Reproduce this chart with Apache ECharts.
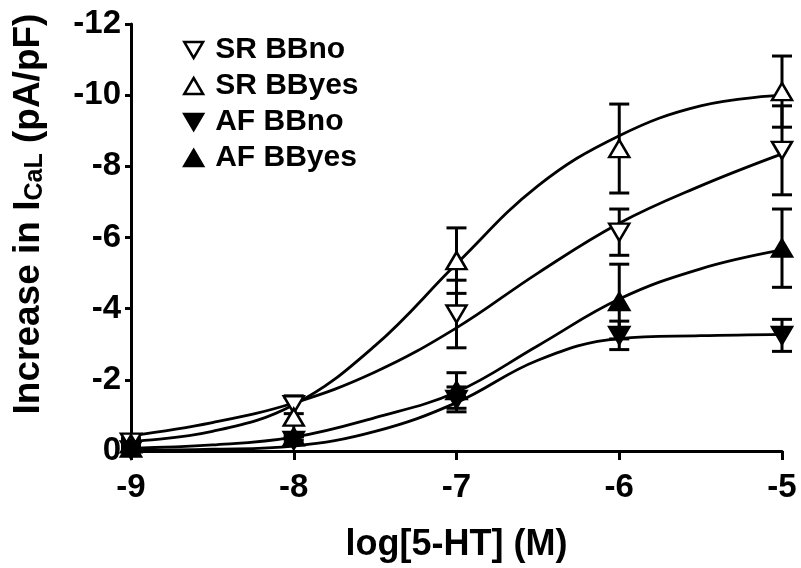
<!DOCTYPE html>
<html>
<head>
<meta charset="utf-8">
<script src="https://cdn.jsdelivr.net/npm/echarts@6/dist/echarts.min.js"></script>
<style>
  html, body { margin: 0; padding: 0; background: #fff; }
  #chart { width: 801px; height: 568px; }
</style>
</head>
<body>
<div id="chart"></div>
<script>
// concentrations (log M) where the points were measured
var doseX = [-9, -8, -7, -6, -5];
var curveX = [-9, -8.5, -8, -7.5, -7, -6.5, -6, -5.5, -5];
var xTicks = [-9, -8, -7, -6, -5];
var yTicks = [0, -2, -4, -6, -8, -10, -12];

// means and SEM
var srNoMean = [-0.25, -1.3, -3.85, -6.15, -8.45];
var srNoSem = [0.1, 0.25, 0.95, 0.65, 1.25];
var srYesMean = [-0.2, -0.95, -5.35, -8.5, -10.1];
var srYesSem = [0.1, 0.55, 0.92, 1.25, 1.0];
var afNoMean = [-0.03, -0.3, -1.45, -3.25, -3.25];
var afNoSem = [0.05, 0.1, 0.35, 0.4, 0.45];
var afYesMean = [-0.08, -0.4, -1.7, -4.2, -5.7];
var afYesSem = [0.05, 0.1, 0.5, 1.05, 1.1];

// fitted curves
var srNoFit = [-0.43, -0.8, -1.35, -2.22, -3.46, -5.0, -6.4, -7.45, -8.35];
var srYesFit = [-0.27, -0.55, -1.3, -2.96, -5.26, -7.45, -8.86, -9.7, -10.0];
var afNoFit = [-0.02, -0.05, -0.14, -0.55, -1.36, -2.55, -3.16, -3.24, -3.28];
var afYesFit = [-0.08, -0.17, -0.39, -0.94, -1.66, -2.96, -4.27, -5.12, -5.65];

var FONT = '"Liberation Sans", Arial, sans-serif';
var UP = 'path://M10,0 L20,17 L0,17 Z';
var DOWN = 'path://M0,0 L20,0 L10,17 Z';

var groups = [
  { name: 'SR BBno', mean: srNoMean, sem: srNoSem, fit: srNoFit, icon: DOWN, fill: '#fff' },
  { name: 'SR BByes', mean: srYesMean, sem: srYesSem, fit: srYesFit, icon: UP, fill: '#fff' },
  { name: 'AF BBno', mean: afNoMean, sem: afNoSem, fit: afNoFit, icon: DOWN, fill: '#000' },
  { name: 'AF BByes', mean: afYesMean, sem: afYesSem, fit: afYesFit, icon: UP, fill: '#000' }
];

function zip(xs, ys) {
  return xs.map(function (x, i) { return [x, ys[i]]; });
}

function errorBar(params, api) {
  var x = api.value(0);
  var a = api.coord([x, api.value(1)]);
  var b = api.coord([x, api.value(2)]);
  var w = 10;
  var st = { stroke: '#000', lineWidth: 3 };
  return {
    type: 'group',
    children: [
      { type: 'line', shape: { x1: a[0], y1: a[1], x2: b[0], y2: b[1] }, style: st },
      { type: 'line', shape: { x1: a[0] - w, y1: a[1], x2: a[0] + w, y2: a[1] }, style: st },
      { type: 'line', shape: { x1: b[0] - w, y1: b[1], x2: b[0] + w, y2: b[1] }, style: st }
    ]
  };
}

var series = [];
groups.forEach(function (g) {
  series.push({
    name: g.name + ' fit',
    type: 'line',
    data: zip(curveX, g.fit),
    smooth: 0.4,
    showSymbol: false,
    lineStyle: { color: '#000', width: 2.8 },
    silent: true,
    z: 2
  });
});
groups.forEach(function (g) {
  series.push({
    name: g.name + ' err',
    type: 'custom',
    renderItem: errorBar,
    encode: { x: 0, y: [1, 2] },
    data: doseX.map(function (x, i) {
      return [x, g.mean[i] - g.sem[i], g.mean[i] + g.sem[i]];
    }),
    z: 3
  });
});
groups.forEach(function (g) {
  series.push({
    name: g.name,
    type: 'scatter',
    data: zip(doseX, g.mean),
    symbol: g.icon,
    symbolSize: [20, 17],
    itemStyle: { color: g.fill, borderColor: '#000', borderWidth: 2.5, opacity: 1 },
    z: 4
  });
});

var chart = echarts.init(document.getElementById('chart'));
chart.setOption({
  backgroundColor: '#fff',
  animation: false,
  grid: { left: 131, right: 19, top: 24, bottom: 111 },
  legend: {
    orient: 'vertical',
    left: 178,
    top: 30,
    itemWidth: 19,
    itemHeight: 16,
    itemGap: 6,
    selectedMode: false,
    textStyle: { fontFamily: FONT, fontWeight: 'bold', fontSize: 30, color: '#000', padding: [0, 0, 0, 7] },
    data: groups.map(function (g) {
      return {
        name: g.name,
        icon: g.icon,
        itemStyle: { color: g.fill, borderColor: '#000', borderWidth: 2.5 }
      };
    })
  },
  xAxis: {
    type: 'value',
    min: xTicks[0],
    max: xTicks[xTicks.length - 1],
    interval: 1,
    name: 'log[5-HT] (M)',
    nameLocation: 'middle',
    nameGap: 76,
    nameTextStyle: { fontFamily: FONT, fontWeight: 'bold', fontSize: 36, color: '#000' },
    axisLine: { onZero: false, lineStyle: { color: '#000', width: 3 } },
    axisTick: { length: 9, lineStyle: { color: '#000', width: 3 } },
    axisLabel: { margin: 20, fontFamily: FONT, fontWeight: 'bold', fontSize: 33, color: '#000' },
    splitLine: { show: false }
  },
  yAxis: {
    type: 'value',
    inverse: true,
    min: yTicks[yTicks.length - 1],
    max: yTicks[0],
    interval: 2,
    axisLine: { show: true, onZero: false, lineStyle: { color: '#000', width: 3 } },
    axisTick: { show: true, length: 6, lineStyle: { color: '#000', width: 3 } },
    axisLabel: { margin: 10, fontFamily: FONT, fontWeight: 'bold', fontSize: 33, color: '#000' },
    splitLine: { show: false }
  },
  graphic: [{
    type: 'text',
    x: 29,
    y: 214,
    rotation: Math.PI / 2,
    style: {
      text: '{m|Increase in I}{s|CaL}{m| (pA/pF)}',
      align: 'center',
      verticalAlign: 'middle',
      fill: '#000',
      rich: {
        m: { fontFamily: FONT, fontWeight: 'bold', fontSize: 37, fill: '#000' },
        s: { fontFamily: FONT, fontWeight: 'bold', fontSize: 25, fill: '#000', verticalAlign: 'bottom' }
      }
    }
  }],
  series: series
});
</script>
</body>
</html>
